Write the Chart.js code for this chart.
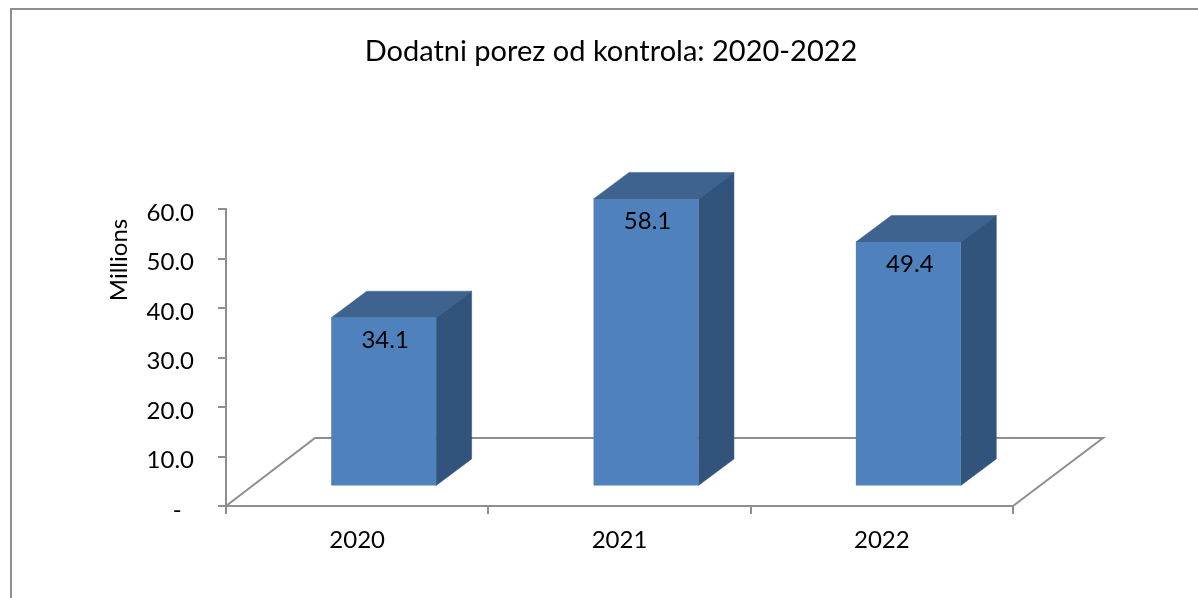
<!DOCTYPE html>
<html>
<head>
<meta charset="utf-8">
<title>Dodatni porez od kontrola</title>
<script src="https://cdn.jsdelivr.net/npm/chart.js@4"></script>
<style>
    body { margin: 0; background: #fff; }
    canvas { display: block; }
</style>
</head>
<body>
<canvas id="taxChart" width="1198" height="598"></canvas>
<script>
// chart data, values in millions
const categories = ['2020', '2021', '2022'];
const taxValues = [34.1, 58.1, 49.4];
const yTickLabels = ['-  ', '10.0', '20.0', '30.0', '40.0', '50.0', '60.0'];

const chartTitle = 'Dodatni porez od kontrola: 2020-2022';
const yAxisTitle = 'Millions';

const fontFamily = 'Lato, "Open Sans", sans-serif';
const axisGrey = '#8e8e8e';

// 3D look, in pixels
const floorDepth = { x: 89, y: 68 };
const barOffset = { x: 26.5, y: 19.5 };
const barDepth = { x: 35.5, y: 26.5 };

function fillPoly(ctx, color, points) {
    ctx.beginPath();
    points.forEach((p, i) => i ? ctx.lineTo(p[0], p[1]) : ctx.moveTo(p[0], p[1]));
    ctx.closePath();
    ctx.fillStyle = color;
    ctx.fill();
    ctx.strokeStyle = color;
    ctx.lineWidth = 0.5;
    ctx.stroke();
}

const box3d = {
    id: 'box3d',
    // frame, titles and floor go under the bars
    beforeDatasetsDraw(chart) {
        const { ctx, chartArea: a } = chart;
        ctx.save();
        ctx.strokeStyle = axisGrey;
        ctx.lineWidth = 2;
        ctx.beginPath();
        ctx.moveTo(11, chart.height);
        ctx.lineTo(11, 9);
        ctx.lineTo(chart.width, 9);
        ctx.stroke();

        ctx.beginPath();
        ctx.moveTo(a.left, a.bottom);
        ctx.lineTo(a.left + floorDepth.x, a.bottom - floorDepth.y);
        ctx.lineTo(a.right + floorDepth.x + 1, a.bottom - floorDepth.y);
        ctx.lineTo(a.right, a.bottom);
        ctx.stroke();

        ctx.fillStyle = '#000';
        ctx.textAlign = 'center';
        ctx.textBaseline = 'middle';

        // the source title is centred on the frame, not on the plot
        ctx.font = '29px ' + fontFamily;
        ctx.fillText(chartTitle, 611, 52);

        ctx.translate(119, 260);
        ctx.rotate(-Math.PI / 2);
        ctx.font = '24px ' + fontFamily;
        ctx.fillText(yAxisTitle, 0, 0);
        ctx.restore();
    },
    // the bars stand further back on the floor than the axis line
    beforeDatasetDraw(chart, args) {
        const { ctx } = chart;
        ctx.save();
        ctx.translate(barOffset.x, -barOffset.y);
        args.meta.data.forEach(bar => {
            const l = bar.x - bar.width / 2;
            const r = bar.x + bar.width / 2;
            fillPoly(ctx, '#3e638f', [[l, bar.y], [l + barDepth.x, bar.y - barDepth.y], [r + barDepth.x, bar.y - barDepth.y], [r, bar.y]]);
            fillPoly(ctx, '#32537b', [[r, bar.y], [r + barDepth.x, bar.y - barDepth.y], [r + barDepth.x, bar.base - barDepth.y], [r, bar.base]]);
        });
    },
    afterDatasetDraw(chart, args) {
        const { ctx } = chart;
        ctx.font = '24px ' + fontFamily;
        ctx.fillStyle = '#000';
        ctx.textAlign = 'center';
        ctx.textBaseline = 'middle';
        args.meta.data.forEach((bar, i) => {
            ctx.fillText(taxValues[i].toFixed(1), bar.x + 1.5, bar.y + 22.5);
        });
        ctx.restore();
    }
};

new Chart(document.getElementById('taxChart'), {
    type: 'bar',
    plugins: [box3d],
    data: {
        labels: categories,
        datasets: [{
            data: taxValues,
            backgroundColor: '#4f81bd',
            categoryPercentage: 1,
            barPercentage: 0.4
        }]
    },
    options: {
        responsive: false,
        animation: false,
        layout: { padding: { top: 209, right: 185 } },
        plugins: {
            legend: { display: false },
            tooltip: { enabled: false }
        },
        scales: {
            x: {
                afterFit(scale) { scale.height = 92; },
                border: { color: axisGrey, width: 2 },
                grid: { drawOnChartArea: false, color: axisGrey, lineWidth: 2, tickLength: 8 },
                ticks: { color: '#000', font: { family: fontFamily, size: 24 }, padding: 12, maxRotation: 0 }
            },
            y: {
                min: 0,
                max: 60,
                afterFit(scale) { scale.width = 226; },
                border: { color: axisGrey, width: 2 },
                grid: { drawOnChartArea: false, color: axisGrey, lineWidth: 2, tickLength: 8 },
                ticks: {
                    stepSize: 10,
                    color: '#000',
                    font: { family: fontFamily, size: 24 },
                    padding: 24,
                    labelOffset: 4,
                    callback: (value, i) => yTickLabels[i]
                }
            }
        }
    }
});
</script>
</body>
</html>
